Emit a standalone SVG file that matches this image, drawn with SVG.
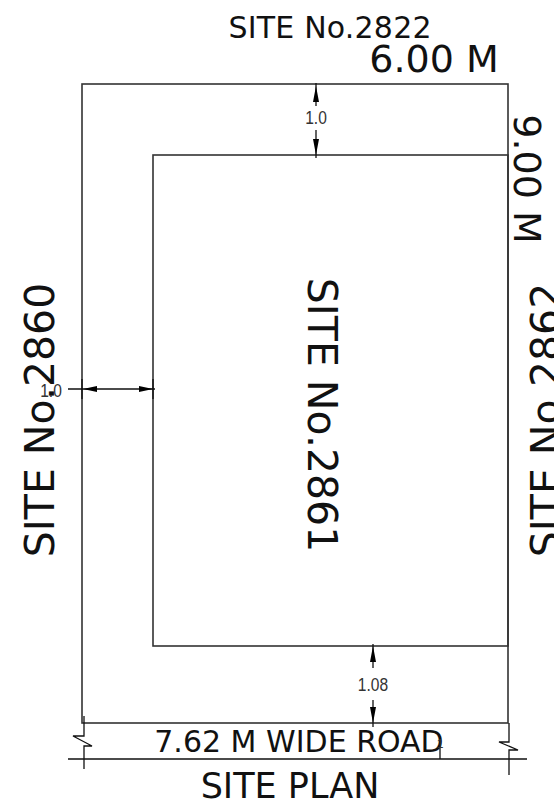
<svg xmlns="http://www.w3.org/2000/svg" width="554" height="810" viewBox="0 0 554 810">
<style>
.t{font-family:"DejaVu Sans",Verdana,sans-serif;fill:#111}
.s{font-family:"Liberation Sans",sans-serif;fill:#333;font-size:19px;text-anchor:middle}
.l{fill:none;stroke:#111;stroke-width:1.3}
.w{fill:none;stroke:#333;stroke-width:1.6}
.a{fill:#000;stroke:none}
</style>
<rect width="554" height="810" fill="#fff"/>
<g id="outer-plot"><rect class="w" x="82" y="84" width="426" height="639"/></g>
<g id="inner-building"><rect class="w" x="153" y="155" width="355" height="491"/></g>
<g id="connectors">
<path class="l" d="M316 83V106M316 130V158M68 389H155M373 644V668M373 700V727"/>
<path class="l" d="M68 759H527M84 716V736L73 736L92 746L84 746V769M509 723V742L499 742L518 750L509 750V775M440 745V759"/>
<path class="l" d="M82 379V399M153 379V399"/>
<path class="a" d="M316 86L313 102H319ZM316 155L313 139H319ZM83 389L97 386V392ZM153 389L139 386V392ZM373 646L370 662H376ZM373 723L370 707H376Z"/>
</g>
<g id="label-site-2822"><text class="t" x="330" y="38" font-size="30" text-anchor="middle" textLength="203">SITE No.2822</text></g>
<g id="label-width"><text class="t" x="434" y="72" font-size="38" text-anchor="middle">6.00 M</text></g>
<g id="label-length"><text class="t" transform="translate(514,179) rotate(90)" font-size="38" text-anchor="middle">9.00 M</text></g>
<g id="label-site-2860"><text class="t" transform="translate(54,420) rotate(-90)" font-size="41" text-anchor="middle">SITE No.2860</text></g>
<g id="label-site-2861"><text class="t" transform="translate(308,415) rotate(90)" font-size="41" text-anchor="middle">SITE No.2861</text></g>
<g id="label-site-2862"><text class="t" transform="translate(560,420) rotate(-90)" font-size="41" text-anchor="middle">SITE No.2862</text></g>
<g id="dim-top"><text class="s" transform="translate(316,124) scale(.82,1)">1.0</text></g>
<g id="dim-left"><text class="s" transform="translate(51,397) scale(.82,1)">1.0</text></g>
<g id="dim-bottom"><text class="s" transform="translate(373,691) scale(.82,1)">1.08</text></g>
<g id="label-road"><text class="t" x="299" y="752" font-size="30" text-anchor="middle">7.62 M WIDE ROAD</text></g>
<g id="label-road-tick"><text class="s" x="440" y="748" style="font-size:12px">1</text></g>
<g id="label-title"><text class="t" x="290" y="798" font-size="35" text-anchor="middle">SITE PLAN</text></g>
</svg>
